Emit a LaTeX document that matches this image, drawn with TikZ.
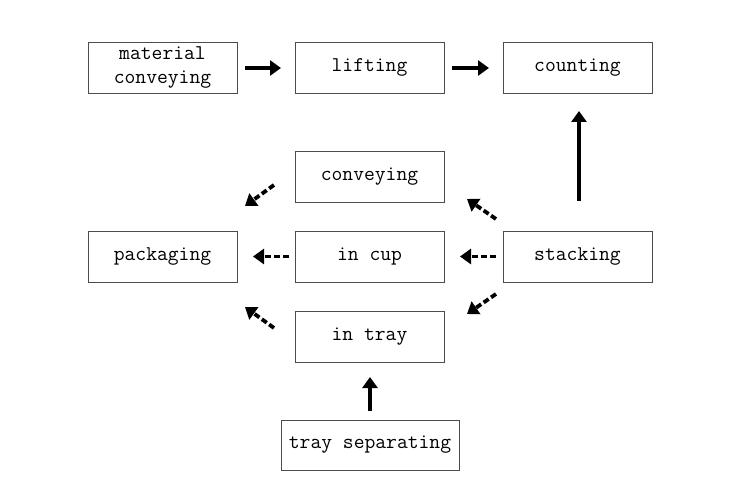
\documentclass[tikz,border=0pt]{standalone}
\usepackage{fontspec}
\usetikzlibrary{arrows.meta}
\begin{document}
\begin{tikzpicture}[x=1pt,y=-1pt,
  box/.style={draw=black!70,line width=0.8pt,minimum width=149pt,minimum height=51pt,inner sep=0pt,font=\ttfamily\fontsize{21}{24}\selectfont,align=center},
  solidarrow/.style={line width=3.8pt,-{Triangle[length=11pt,width=15pt]}},
  dasharrow/.style={line width=3.8pt,dash pattern=on 6pt off 3pt,-{Triangle[length=11pt,width=15pt]}}]
\useasboundingbox (0,0) rectangle (750,497);
\node[box] (mat) at (162.5,67.5) {material\\conveying};
\node[box] (lift) at (369.5,67.5) {lifting};
\node[box] (count) at (577.5,67.5) {counting};
\node[box] (conv) at (369.5,176.5) {conveying};
\node[box] (pack) at (162.5,256.5) {packaging};
\node[box] (cup) at (369.5,256.5) {in cup};
\node[box] (stack) at (577.5,256.5) {stacking};
\node[box] (tray) at (369.5,336.5) {in tray};
\node[box,minimum width=178pt,minimum height=50pt] (sep) at (370,445) {tray separating};
\coordinate (a1) at (245,68); \coordinate (a2) at (281,68);
\draw[solidarrow] (a1) -- (a2);
\coordinate (b1) at (452,68); \coordinate (b2) at (489,68);
\draw[solidarrow] (b1) -- (b2);
\coordinate (c1) at (579,201); \coordinate (c2) at (579,111);
\draw[solidarrow] (c1) -- (c2);
\coordinate (d1) at (370,411); \coordinate (d2) at (370,377);
\draw[solidarrow] (d1) -- (d2);
\coordinate (e1) at (289,256.5); \coordinate (e2) at (253,256.5);
\draw[dasharrow] (e1) -- (e2);
\coordinate (f1) at (496,256.5); \coordinate (f2) at (460,256.5);
\draw[dasharrow] (f1) -- (f2);
\coordinate (g1) at (496,219); \coordinate (g2) at (467,199);
\draw[dasharrow] (g1) -- (g2);
\coordinate (h1) at (496,294); \coordinate (h2) at (467,314);
\draw[dasharrow] (h1) -- (h2);
\coordinate (i1) at (274,185); \coordinate (i2) at (245,206);
\draw[dasharrow] (i1) -- (i2);
\coordinate (j1) at (274,328); \coordinate (j2) at (245,307);
\draw[dasharrow] (j1) -- (j2);
\end{tikzpicture}
\end{document}
